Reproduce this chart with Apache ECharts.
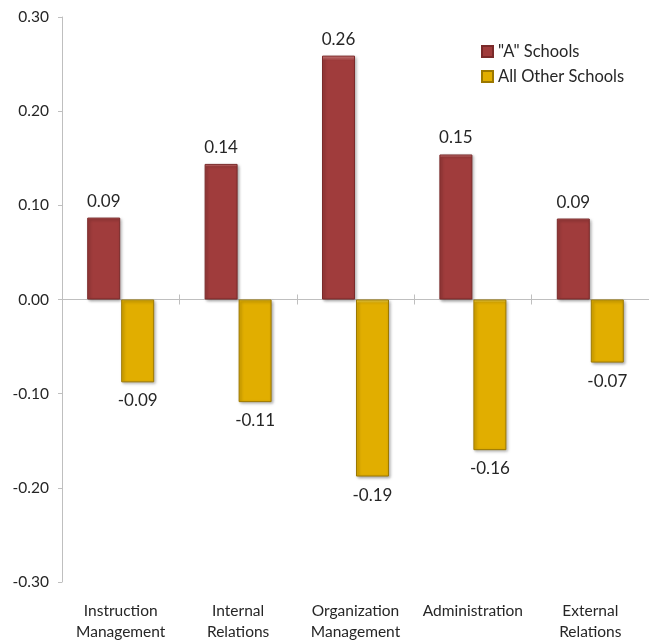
<!DOCTYPE html>
<html>
<head>
<meta charset="utf-8">
<script src="https://cdn.jsdelivr.net/npm/echarts@6/dist/echarts.min.js"></script>
<style>
  html, body { margin: 0; padding: 0; background: #fff; }
  #chart { width: 649px; height: 642px; }
</style>
</head>
<body>
<div id="chart"></div>
<script>
// categories and values
const categories = ['Instruction\nManagement', 'Internal\nRelations', 'Organization\nManagement', 'Administration', 'External\nRelations'];
const aSchools = [0.087, 0.144, 0.259, 0.154, 0.086];
const otherSchools = [-0.088, -0.109, -0.188, -0.160, -0.067];
const yTicks = [-0.30, -0.20, -0.10, 0.00, 0.10, 0.20, 0.30];

const font = 'Lato, "Noto Sans", sans-serif';
const textColor = '#262626';
const axisColor = '#bfbfbf';

let chart = echarts.init(document.getElementById('chart'), null, {renderer: 'canvas'});

function barStyle(top, base, edge) {
  return {
    color: new echarts.graphic.LinearGradient(0, 0, 0, 1, [
      {offset: 0, color: top},
      {offset: 0.02, color: base},
      {offset: 1, color: base}
    ]),
    borderColor: edge,
    borderWidth: 1,
    shadowColor: 'rgba(0,0,0,0.35)',
    shadowBlur: 3,
    shadowOffsetX: 1.5,
    shadowOffsetY: 1.5
  };
}

let option = {
  animation: false,
  textStyle: {fontFamily: font},
  grid: {left: 62, top: 17, width: 589, bottom: 59, containLabel: false},
  legend: {
    orient: 'vertical',
    left: 476,
    top: 38,
    itemWidth: 11,
    itemHeight: 11,
    itemGap: 8,
    icon: 'rect',
    textStyle: {fontFamily: font, fontSize: 16.5, color: textColor},
    data: ['"A" Schools', 'All Other Schools']
  },
  xAxis: [
    {
      type: 'category',
      data: categories,
      position: 'bottom',
      axisLine: {show: false, onZero: false},
      axisTick: {show: false},
      axisLabel: {
        fontFamily: font, fontSize: 15.5, color: textColor,
        margin: 18, lineHeight: 21, interval: 0
      }
    },
    {
      // zero line with ticks pointing down
      type: 'category',
      data: categories,
      position: 'bottom',
      axisLine: {show: true, onZero: true, onZeroAxisIndex: 0, lineStyle: {color: axisColor, width: 1}},
      axisTick: {show: true, length: 5, lineStyle: {color: axisColor}},
      axisLabel: {show: false}
    },
    {
      // ticks pointing up from the zero line
      type: 'category',
      data: categories,
      position: 'bottom',
      axisLine: {show: false, onZero: true, onZeroAxisIndex: 1},
      axisTick: {show: true, inside: true, length: 5, lineStyle: {color: axisColor}},
      axisLabel: {show: false}
    }
  ],
  yAxis: [
    {
      type: 'value',
      min: yTicks[0],
      max: yTicks[yTicks.length - 1],
      interval: 0.1,
      axisLine: {show: true, lineStyle: {color: axisColor, width: 1}},
      axisTick: {show: true, length: 4, lineStyle: {color: axisColor}},
      splitLine: {show: false},
      axisLabel: {
        fontFamily: font, fontSize: 15.5, color: textColor, margin: 13,
        formatter: v => v.toFixed(2)
      }
    },
    {
      // hidden twin, only hosts the upward zero-line ticks
      type: 'value',
      min: yTicks[0],
      max: yTicks[yTicks.length - 1],
      interval: 0.1,
      show: false,
      splitLine: {show: false}
    }
  ],
  series: [
    {
      name: '"A" Schools',
      type: 'bar',
      xAxisIndex: 0,
      yAxisIndex: 0,
      data: aSchools,
      barWidth: 33,
      barGap: '3%',
      itemStyle: barStyle('#e08a8a', '#a03c3c', '#7a2a2a'),
      label: {
        show: true, position: 'top', distance: 8,
        fontFamily: font, fontSize: 17, color: textColor,
        formatter: p => p.value.toFixed(2)
      }
    },
    {
      name: 'All Other Schools',
      type: 'bar',
      xAxisIndex: 0,
      yAxisIndex: 0,
      data: otherSchools,
      barWidth: 33,
      itemStyle: barStyle('#ffe45c', '#e1ae00', '#9c7800'),
      label: {
        show: true, position: 'bottom', distance: 10,
        fontFamily: font, fontSize: 17, color: textColor,
        formatter: p => p.value.toFixed(2)
      }
    }
  ]
};

chart.setOption(option);
window.addEventListener('resize', () => chart.resize());
</script>
</body>
</html>
